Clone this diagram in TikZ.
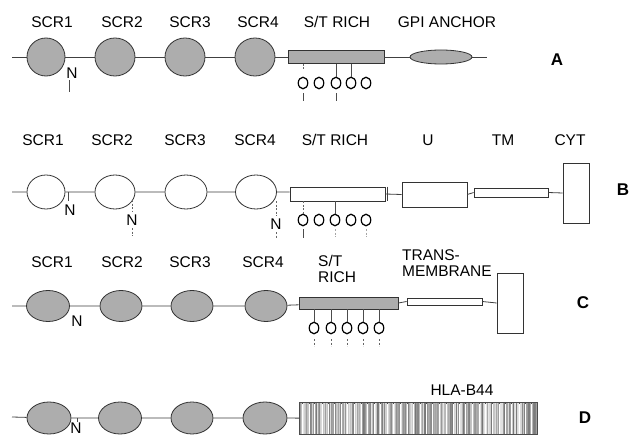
\documentclass[tikz,border=0pt]{standalone}
\usepackage{fontspec}
\setmainfont{Liberation Sans}
\usetikzlibrary{shapes.geometric}
\begin{document}
\begin{tikzpicture}[x=1pt,y=-1pt,
  lbl/.style={font=\fontsize{15.5}{17}\selectfont, inner sep=0pt},
  tag/.style={font=\fontsize{17}{18}\selectfont\bfseries, inner sep=0pt},
  nlbl/.style={font=\fontsize{15.5}{17}\selectfont, inner sep=0pt},
  bb/.style={draw=black!75, line width=0.8pt},
  scr/.style={ellipse, draw=black!80, line width=0.8pt, inner sep=0pt, fill=black!32},
  scro/.style={ellipse, draw=black!80, line width=0.8pt, inner sep=0pt, fill=white},
  stbox/.style={rectangle, draw=black!80, line width=0.8pt, inner sep=0pt, fill=black!32},
  obox/.style={rectangle, draw=black!80, line width=0.8pt, inner sep=0pt, fill=white},
  ocirc/.style={ellipse, draw=black, line width=1.2pt, minimum width=9.5pt, minimum height=11.5pt, inner sep=0pt},
  tick/.style={draw=black!70, line width=0.7pt},
  dtick/.style={draw=black!60, line width=0.7pt, dash pattern=on 2pt off 1.5pt}]
\useasboundingbox (0,0) rectangle (633,436);
\fill[white] (0,0) rectangle (633,436);

% ---------------- Row A ----------------
\coordinate (a0) at (12,57);
\node[scr, minimum width=38pt, minimum height=38pt] (a1) at (46,57) {};
\node[scr, minimum width=40pt, minimum height=38pt] (a2) at (115,57) {};
\node[scr, minimum width=40pt, minimum height=38pt] (a3) at (185,57) {};
\node[scr, minimum width=40pt, minimum height=38pt] (a4) at (255,57) {};
\node[stbox, minimum width=96pt, minimum height=13pt] (aST) at (336,57) {};
\node[scr, minimum width=62pt, minimum height=14pt] (aGPI) at (441,57) {};
\coordinate (aE) at (487,57);
\draw[bb] (a0) -- (a1) (a1) -- (a2) (a2) -- (a3) (a3) -- (a4) (a4) -- (aST) (aST) -- (aGPI) (aGPI) -- (aE);
\node[lbl] (la1) at (52,22) {SCR1};
\node[lbl] (la2) at (122,22) {SCR2};
\node[lbl] (la3) at (190,22) {SCR3};
\node[lbl] (la4) at (258,22) {SCR4};
\node[lbl] (laST) at (337,22) {S/T RICH};
\node[lbl] (laGPI) at (447,22) {GPI ANCHOR};
\node[tag] (tA) at (557,60) {A};
\node[nlbl] (aN) at (72,73) {N};
\draw[tick] (69,80) -- (69,92);
\foreach \x [count=\i] in {303,319,336,351,366} {
  \node[ocirc] (ao\i) at (\x,83) {};
}
\draw[dtick] (ao1 |- aST.south) -- ++(0,5);
\draw[tick] (ao3 |- aST.south) -- (ao3.north);
\draw[tick] (ao4 |- aST.south) -- (ao4.north);
\draw[tick] (ao1.south) ++(0,4) -- ++(0,8);
\draw[tick] (ao3.south) ++(0,4) -- ++(0,8);

% ---------------- Row B ----------------
\coordinate (b0) at (12,192);
\node[scro, minimum width=38pt, minimum height=34pt] (b1) at (46,192) {};
\node[scro, minimum width=40pt, minimum height=34pt] (b2) at (115,192) {};
\node[scro, minimum width=42pt, minimum height=34pt] (b3) at (186,192) {};
\node[scro, minimum width=41pt, minimum height=34pt] (b4) at (256,192) {};
\node[obox, minimum width=95pt, minimum height=14pt] (bST) at (337.5,194) {};
\node[obox, minimum width=65pt, minimum height=25pt] (bU) at (434.5,194.5) {};
\node[obox, minimum width=74pt, minimum height=9pt] (bTM) at (511,192.5) {};
\node[obox, minimum width=26pt, minimum height=60pt] (bCYT) at (576,193) {};
\draw[bb] (b0) -- (b1) (b1) -- (b2) (b2) -- (b3) (b3) -- (b4) (b4.east) -- (bST.west |- b4.east)
  (bST.east) -- (bU.west) (bU.east) -- (bTM.west) (bTM.east) -- (bCYT.west);
\draw[bb] (bST.north east) ++(2,0) -- ++(0,14);
\node[lbl] (lb1) at (43,140) {SCR1};
\node[lbl] (lb2) at (112,140) {SCR2};
\node[lbl] (lb3) at (185,140) {SCR3};
\node[lbl] (lb4) at (255,140) {SCR4};
\node[lbl] (lbST) at (335,140) {S/T RICH};
\node[lbl] (lbU) at (428,140) {U};
\node[lbl] (lbTM) at (503,140) {TM};
\node[lbl] (lbCYT) at (570,140) {CYT};
\node[tag] (tB) at (623,190) {B};
\node[nlbl] (bN1) at (70,210) {N};
\draw[tick] (68,192) -- (68,201);
\node[nlbl] (bN2) at (132,220) {N};
\draw[dtick] (132,200) -- (132,212) (132,228) -- (132,236);
\node[nlbl] (bN4) at (276,224) {N};
\draw[dtick] (276,201) -- (276,216) (276,232) -- (276,238);
\foreach \x [count=\i] in {303,319,335,351,366} {
  \node[ocirc] (bo\i) at (\x,220) {};
}
\draw[dtick] (bo1 |- bST.south) -- (bo1.north);
\draw[tick] (bo3 |- bST.south) -- (bo3.north);
\draw[tick] (bo1.south) ++(0,3) -- ++(0,9);
\draw[dtick, draw=black!35] (bo3.south) ++(0,3) -- ++(0,8);
\draw[dtick, draw=black!35] (bo5.south) ++(0,3) -- ++(0,8);

% ---------------- Row C ----------------
\coordinate (c0) at (12,306);
\node[scr, minimum width=43pt, minimum height=31pt] (c1) at (48,306) {};
\node[scr, minimum width=42pt, minimum height=31pt] (c2) at (121,306) {};
\node[scr, minimum width=42pt, minimum height=31pt] (c3) at (192,306) {};
\node[scr, minimum width=42pt, minimum height=31pt] (c4) at (266,306) {};
\node[stbox, minimum width=99pt, minimum height=12pt] (cST) at (348.5,303) {};
\node[obox, minimum width=75pt, minimum height=7pt] (cTM) at (444.5,301.5) {};
\node[obox, minimum width=26pt, minimum height=60pt] (cCYT) at (510,303) {};
\draw[bb] (c0) -- (c1) (c1) -- (c2) (c2) -- (c3) (c3) -- (c4) (c4) -- (cST)
  (cST.east) -- (cTM.west) (cTM.east) -- (cCYT.west);
\node[lbl] (lc1) at (52,262) {SCR1};
\node[lbl] (lc2) at (122,262) {SCR2};
\node[lbl] (lc3) at (190,262) {SCR3};
\node[lbl] (lc4) at (263,262) {SCR4};
\node[lbl, anchor=west, align=left, font=\fontsize{15.5}{16}\selectfont] (lcST) at (318,269) {S/T\\RICH};
\node[lbl, anchor=west, align=left, font=\fontsize{15.5}{16}\selectfont] (lcTM) at (402,263) {TRANS-\\MEMBRANE};
\node[tag] (tC) at (583,303) {C};
\node[nlbl] (cN) at (77,321) {N};
\foreach \x [count=\i] in {314,331,347,363,379} {
  \node[ocirc] (co\i) at (\x,328) {};
  \draw[tick] (co\i |- cST.south) -- (co\i.north);
  \draw[dtick] (co\i.south) ++(0,5) -- ++(0,7);
}

% ---------------- Row D ----------------
\coordinate (d0) at (12,417);
\node[scr, minimum width=44pt, minimum height=32pt] (d1) at (49,418) {};
\node[scr, minimum width=43pt, minimum height=32pt] (d2) at (120,418) {};
\node[scr, minimum width=42pt, minimum height=32pt] (d3) at (192,418) {};
\node[scr, minimum width=44pt, minimum height=32pt] (d4) at (265,418) {};
\node[rectangle, draw=black!70, line width=0.7pt, inner sep=0pt, minimum width=237pt, minimum height=31pt] (dHLA) at (418.5,418.5) {};
\pgfmathsetseed{11}
\begin{scope}
\clip (dHLA.south west) rectangle (dHLA.north east);
\foreach \k in {0,...,200} {
  \pgfmathsetmacro{\xx}{300.5+\k*1.18}
  \pgfmathsetmacro{\gg}{int(10+45*rnd)}
  \pgfmathsetmacro{\lw}{0.2+0.5*rnd}
  \draw[black!\gg, line width=\lw pt] (\xx,403) -- (\xx,434);
}
\end{scope}
\draw[draw=black!70, line width=0.7pt] (dHLA.south west) rectangle (dHLA.north east);
\draw[bb] (d0) -- (d1) (d1) -- (d2) (d2) -- (d3) (d3) -- (d4) (d4) -- (dHLA);
\node[lbl] (ldHLA) at (462,390) {HLA-B44};
\node[tag] (tD) at (585,418) {D};
\node[nlbl, anchor=north] (dN) at (76,422.5) {N};
\draw[tick] (77,418) -- (77,422);
\end{tikzpicture}
\end{document}
